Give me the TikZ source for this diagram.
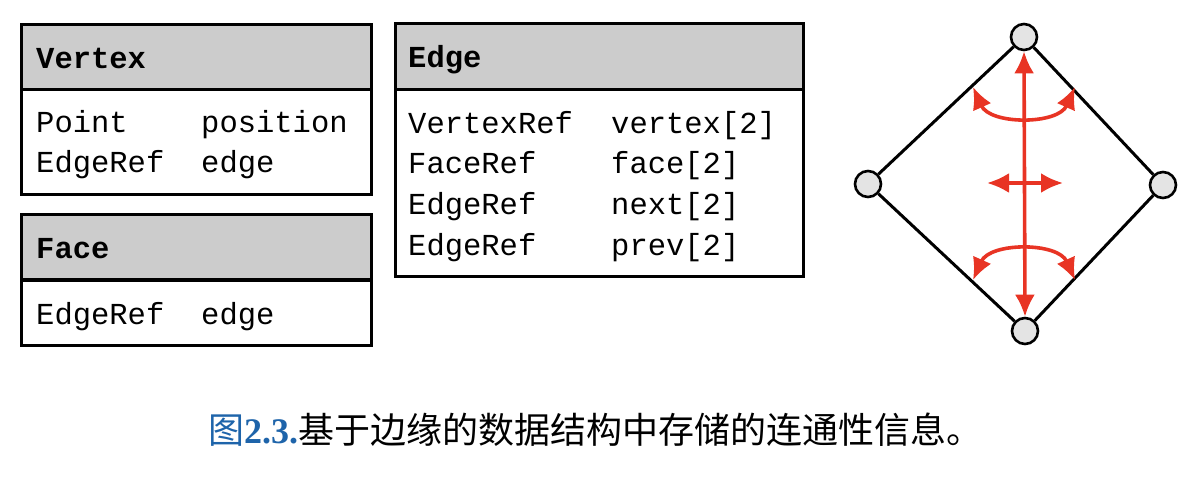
\documentclass[tikz,border=0pt]{standalone}
\usepackage{fontspec}
\setmonofont{Liberation Mono}
\newfontfamily\cjk{Noto Sans CJK SC}
\newfontfamily\capser{Liberation Serif}
\usetikzlibrary{arrows.meta}
\definecolor{hdr}{RGB}{204,204,204}
\definecolor{ered}{RGB}{232,52,36}
\definecolor{capblue}{RGB}{30,100,170}
\definecolor{vfill}{RGB}{228,228,228}
\tikzset{
  boxline/.style={draw=black,line width=3pt},
  hdrbox/.style={fill=hdr,draw=black,line width=3pt},
  mono/.style={anchor=base west,font=\fontsize{30.5}{32}\selectfont\ttfamily,inner sep=0pt},
  monob/.style={anchor=base west,font=\fontsize{30.5}{32}\selectfont\ttfamily\bfseries,inner sep=0pt},
  vtx/.style={circle,draw=black,line width=2.6pt,fill=vfill,minimum size=26pt,inner sep=0pt},
  edgeln/.style={draw=black,line width=3pt},
  redarr/.style={draw=ered,line width=3.6pt,{Latex[length=22pt,width=20pt]}-{Latex[length=22pt,width=20pt]}},
}
\begin{document}
\begin{tikzpicture}[x=1pt,y=-1pt]
\useasboundingbox (0,0) rectangle (1188,478);
% Vertex
\draw[hdrbox] (21,25) rectangle (371,90);
\draw[boxline] (21,90) rectangle (371,195);
\node[monob] (vh) at (36,69) {Vertex};
\node[mono] (v1a) at (36,133) {Point};
\node[mono] (v1b) at (201,133) {position};
\node[mono] (v2a) at (36,173) {EdgeRef};
\node[mono] (v2b) at (201,173) {edge};
% Face
\draw[hdrbox] (21,215) rectangle (371,280);
\draw[boxline] (21,280) rectangle (371,345);
\node[monob] (fh) at (36,259) {Face};
\node[mono] (f1a) at (36,324) {EdgeRef};
\node[mono] (f1b) at (201,324) {edge};
% Edge
\draw[hdrbox] (395,24) rectangle (803,90);
\draw[boxline] (395,90) rectangle (803,277);
\node[monob] (eh) at (408,68) {Edge};
\node[mono] (e1a) at (408,134) {VertexRef};
\node[mono] (e1b) at (611,134) {vertex[2]};
\node[mono] (e2a) at (408,174) {FaceRef};
\node[mono] (e2b) at (611,174) {face[2]};
\node[mono] (e3a) at (408,215) {EdgeRef};
\node[mono] (e3b) at (611,215) {next[2]};
\node[mono] (e4a) at (408,256) {EdgeRef};
\node[mono] (e4b) at (611,256) {prev[2]};
% diamond
\node[vtx] (t) at (1024,37) {};
\node[vtx] (l) at (868,184) {};
\node[vtx] (r) at (1163,185) {};
\node[vtx] (b) at (1025,331) {};
\draw[edgeln] (t) -- (l) (l) -- (b) (b) -- (r) (r) -- (t);
\draw[redarr] (t.south) -- (b.north);
\coordinate (hl) at (987,183);
\coordinate (hr) at (1063,183);
\draw[redarr] (hl) -- (hr);
\coordinate (a1) at (973,87);
\coordinate (a2) at (1075,87);
\draw[redarr] (a1) .. controls (990,125) and (1058,125) .. (a2);
\coordinate (b1) at (973,280);
\coordinate (b2) at (1075,280);
\draw[redarr] (b1) .. controls (990,242) and (1058,242) .. (b2);
% caption
\node[inner sep=0pt,font=\fontsize{36}{40}\selectfont] (cap) at (595,430)
 {{\cjk\color{capblue}图}{\capser\bfseries\color{capblue}2.3.}{\cjk 基于边缘的数据结构中存储的连通性信息。}};
\end{tikzpicture}
\end{document}
